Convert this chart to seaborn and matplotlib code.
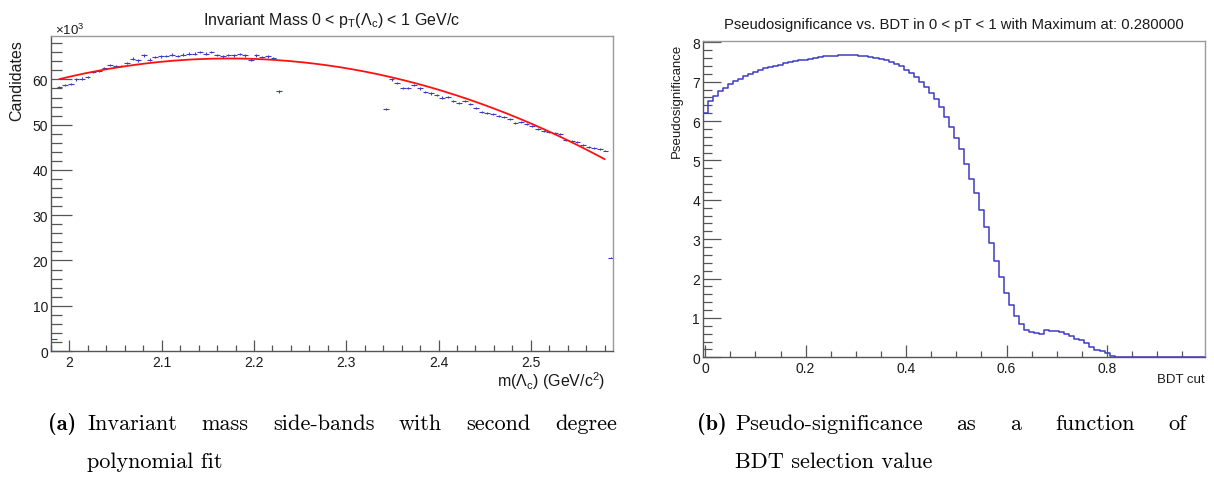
import numpy as np
import pandas as pd
import seaborn as sns
import matplotlib
matplotlib.use('Agg')
import matplotlib.pyplot as plt
from matplotlib.ticker import MultipleLocator, FuncFormatter

# --- left panel: invariant mass side-bands (x10^3 candidates) ---
mass_lo, mass_hi, mass_nbins = 1.98, 2.59, 100
# bins 0..40 (lower side-band)
cand_low = [2.7, 58.3, 58.7, 59.0, 60.0, 60.2, 60.5, 61.6, 61.9, 62.6,
            63.2, 62.9, 62.9, 63.6, 64.6, 64.2, 65.3, 64.4, 64.9, 65.1,
            65.2, 65.5, 65.2, 65.5, 65.7, 65.7, 66.0, 65.7, 66.05, 65.45,
            65.1, 65.45, 65.3, 65.6, 65.3, 64.4, 65.3, 64.9, 65.1, 64.8,
            57.35]
# bins 59..99 (upper side-band)
cand_high = [53.5, 60.0, 59.3, 58.2, 58.1, 58.8, 58.0, 57.2, 56.9, 56.5,
             56.0, 56.1, 55.2, 54.8, 55.2, 54.5, 53.6, 52.9, 52.6, 52.3,
             51.9, 51.6, 51.2, 50.4, 50.6, 50.1, 49.7, 49.0, 48.6, 48.4,
             48.2, 47.9, 46.6, 46.4, 46.2, 45.6, 45.1, 44.9, 44.6, 44.3,
             20.6]
high_first_bin = 59
# second degree polynomial fit (p2, p1, p0) and its range
fit_coeffs = [-134.5, 584.6, -570.6]
fit_range = (1.989, 2.580)

# --- right panel: pseudo-significance vs BDT cut ---
bdt_lo, bdt_hi, bdt_nbins = -0.005, 0.995, 100
psig = [6.21, 6.52, 6.64, 6.76, 6.85, 6.93, 7.02, 7.08, 7.15, 7.20,
        7.25, 7.30, 7.34, 7.37, 7.41, 7.43, 7.47, 7.49, 7.52, 7.54,
        7.56, 7.58, 7.60, 7.62, 7.64, 7.65, 7.66, 7.67, 7.68, 7.675,
        7.67, 7.66, 7.64, 7.63, 7.60, 7.58, 7.54, 7.50, 7.45, 7.39,
        7.30, 7.21, 7.11, 6.99, 6.86, 6.70, 6.56, 6.35, 6.11, 5.86,
        5.58, 5.28, 4.92, 4.54, 4.18, 3.75, 3.31, 2.89, 2.45, 2.04,
        1.64, 1.32, 1.04, 0.84, 0.69, 0.63, 0.62, 0.60, 0.70, 0.68,
        0.66, 0.64, 0.58, 0.53, 0.47, 0.43, 0.36, 0.26, 0.19, 0.16,
        0.12, 0.03, 0.02, 0, 0, 0, 0, 0, 0, 0,
        0, 0, 0, 0, 0, 0, 0, 0, 0, 0]

W, H = 1214, 481
DARK = '#555555'
LIGHT = '#999999'
TXT = '#1a1a1a'
BLUE = '#3c3cc4'
CAP = 16

sns.set_theme(style='white')
plt.rcParams['font.family'] = ['Liberation Sans', 'DejaVu Sans']
plt.rcParams['mathtext.fontset'] = 'custom'
plt.rcParams['mathtext.rm'] = 'Liberation Sans'
plt.rcParams['mathtext.it'] = 'Liberation Sans:italic'
plt.rcParams['mathtext.default'] = 'regular'

fig = plt.figure(figsize=(W / 100, H / 100), dpi=100)
fig.patch.set_facecolor('white')
ax1 = fig.add_axes([51 / W, 1 - 352 / H, 562 / W, 315 / H])
ax2 = fig.add_axes([702.7 / W, 1 - 358.3 / H, 502.3 / W, 316.6 / H])


def style_axes(ax, maj_x, min_x, maj_y, min_y):
    for s in ('left', 'bottom'):
        ax.spines[s].set_color(DARK)
        ax.spines[s].set_linewidth(1.0)
    for s in ('top', 'right'):
        ax.spines[s].set_color(LIGHT)
        ax.spines[s].set_linewidth(1.0)
    ax.tick_params(axis='both', which='both', direction='in', colors=DARK,
                   labelcolor=TXT, width=0.9, labelsize=10,
                   top=False, right=False, bottom=True, left=True)
    ax.tick_params(axis='x', which='major', length=maj_x, pad=3)
    ax.tick_params(axis='x', which='minor', length=min_x)
    ax.tick_params(axis='y', which='major', length=maj_y, pad=2)
    ax.tick_params(axis='y', which='minor', length=min_y)
    ax.grid(False)


# left panel
edges = np.linspace(mass_lo, mass_hi, mass_nbins + 1)
centers = 0.5 * (edges[:-1] + edges[1:])
width = edges[1] - edges[0]
cand = np.full(mass_nbins, np.nan)
cand[:len(cand_low)] = cand_low
cand[high_first_bin:high_first_bin + len(cand_high)] = cand_high
ok = ~np.isnan(cand)
ax1.errorbar(centers[ok], cand[ok], xerr=width / 2,
             yerr=np.sqrt(cand[ok] * 1000) / 1000,
             fmt='none', ecolor=BLUE, elinewidth=0.8, capsize=0)
fit_x = np.linspace(fit_range[0], fit_range[1], 300)
sns.lineplot(x=fit_x, y=np.polyval(fit_coeffs, fit_x), color='#ff1010',
             linewidth=1.3, ax=ax1)
ax1.set_xlim(1.98, 2.589)
ax1.set_ylim(0, 69.6)
ax1.xaxis.set_major_locator(MultipleLocator(0.1))
ax1.xaxis.set_minor_locator(MultipleLocator(0.02))
ax1.yaxis.set_major_locator(MultipleLocator(10))
ax1.yaxis.set_minor_locator(MultipleLocator(2))
ax1.xaxis.set_major_formatter(FuncFormatter(lambda v, p: f'{v:g}'))
style_axes(ax1, 8, 4.3, 15, 7.7)
ax1.set_ylabel('Candidates', fontsize=11.5, color=TXT, loc='top')
ax1.yaxis.set_label_coords(-0.048, 0.99)
ax1.set_xlabel(r'm($\Lambda_{c}$) (GeV/c$^{2}$)', fontsize=11.5, color=TXT,
               loc='right')
ax1.xaxis.set_label_coords(0.986, -0.058)
fig.text(332 / W, 1 - 20 / H,
         r'Invariant Mass 0 < p$_{T}$($\Lambda_{c}$) < 1 GeV/c',
         ha='center', va='center', fontsize=11.5, color=TXT)
fig.text(55 / W, 1 - 30 / H, r'$\times$10$^{3}$', ha='left', va='center',
         fontsize=9.5, color=TXT)

# right panel
bdt_width = (bdt_hi - bdt_lo) / bdt_nbins
hist = pd.DataFrame({'bdt': bdt_lo + bdt_width * (np.arange(bdt_nbins) + 0.5),
                     'psig': psig})
sns.histplot(data=hist, x='bdt', weights='psig', bins=bdt_nbins,
             binrange=(bdt_lo, bdt_hi), element='step', fill=False,
             color=BLUE, linewidth=1.1, ax=ax2)
ax2.set_xlim(bdt_lo, bdt_hi)
ax2.set_ylim(0, 8.04)
ax2.xaxis.set_major_locator(MultipleLocator(0.2))
ax2.xaxis.set_minor_locator(MultipleLocator(0.05))
ax2.yaxis.set_major_locator(MultipleLocator(1))
ax2.yaxis.set_minor_locator(MultipleLocator(0.2))
ax2.xaxis.set_major_formatter(FuncFormatter(lambda v, p: f'{v:g}'))
ax2.yaxis.set_major_formatter(FuncFormatter(lambda v, p: f'{v:g}'))
style_axes(ax2, 9, 4.3, 13, 6.5)
ax2.set_ylabel('Pseudosignificance', fontsize=9.5, color=TXT, loc='top')
ax2.yaxis.set_label_coords(-0.04, 0.995)
ax2.set_xlabel('BDT cut', fontsize=9.5, color=TXT, loc='right')
ax2.xaxis.set_label_coords(1.0, -0.05)
fig.text(954 / W, 1 - 25 / H,
         'Pseudosignificance vs. BDT in 0 < pT < 1 with Maximum at: 0.280000',
         ha='center', va='center', fontsize=10.7, color=TXT)


# captions (LaTeX-like, first line justified)
def caption(tag, line1, line2, x_tag, x0, x1, y1, y2):
    fig.text(x_tag / W, 1 - y1 / H, tag, family='cmb10', fontsize=CAP,
             va='baseline', color='black')
    words = line1.split()
    texts = [fig.text(x0 / W, 1 - y1 / H, w, family='cmr10', fontsize=CAP,
                      va='baseline', color='black') for w in words]
    fig.canvas.draw()
    r = fig.canvas.get_renderer()
    widths = [t.get_window_extent(renderer=r).width for t in texts]
    gap = (x1 - x0 - sum(widths)) / (len(words) - 1)
    x = x0
    for t, wd in zip(texts, widths):
        t.set_x(x / W)
        x += wd + gap
    fig.text(x0 / W, 1 - y2 / H, line2, family='cmr10', fontsize=CAP,
             va='baseline', color='black')


caption('(a)', 'Invariant mass side-bands with second degree',
        'polynomial fit', 48, 87, 617, 430, 468)
caption('(b)', 'Pseudo-significance as a function of',
        'BDT selection value', 697, 735, 1186, 430, 468)

fig.savefig('out.png', dpi=100, facecolor='white')
